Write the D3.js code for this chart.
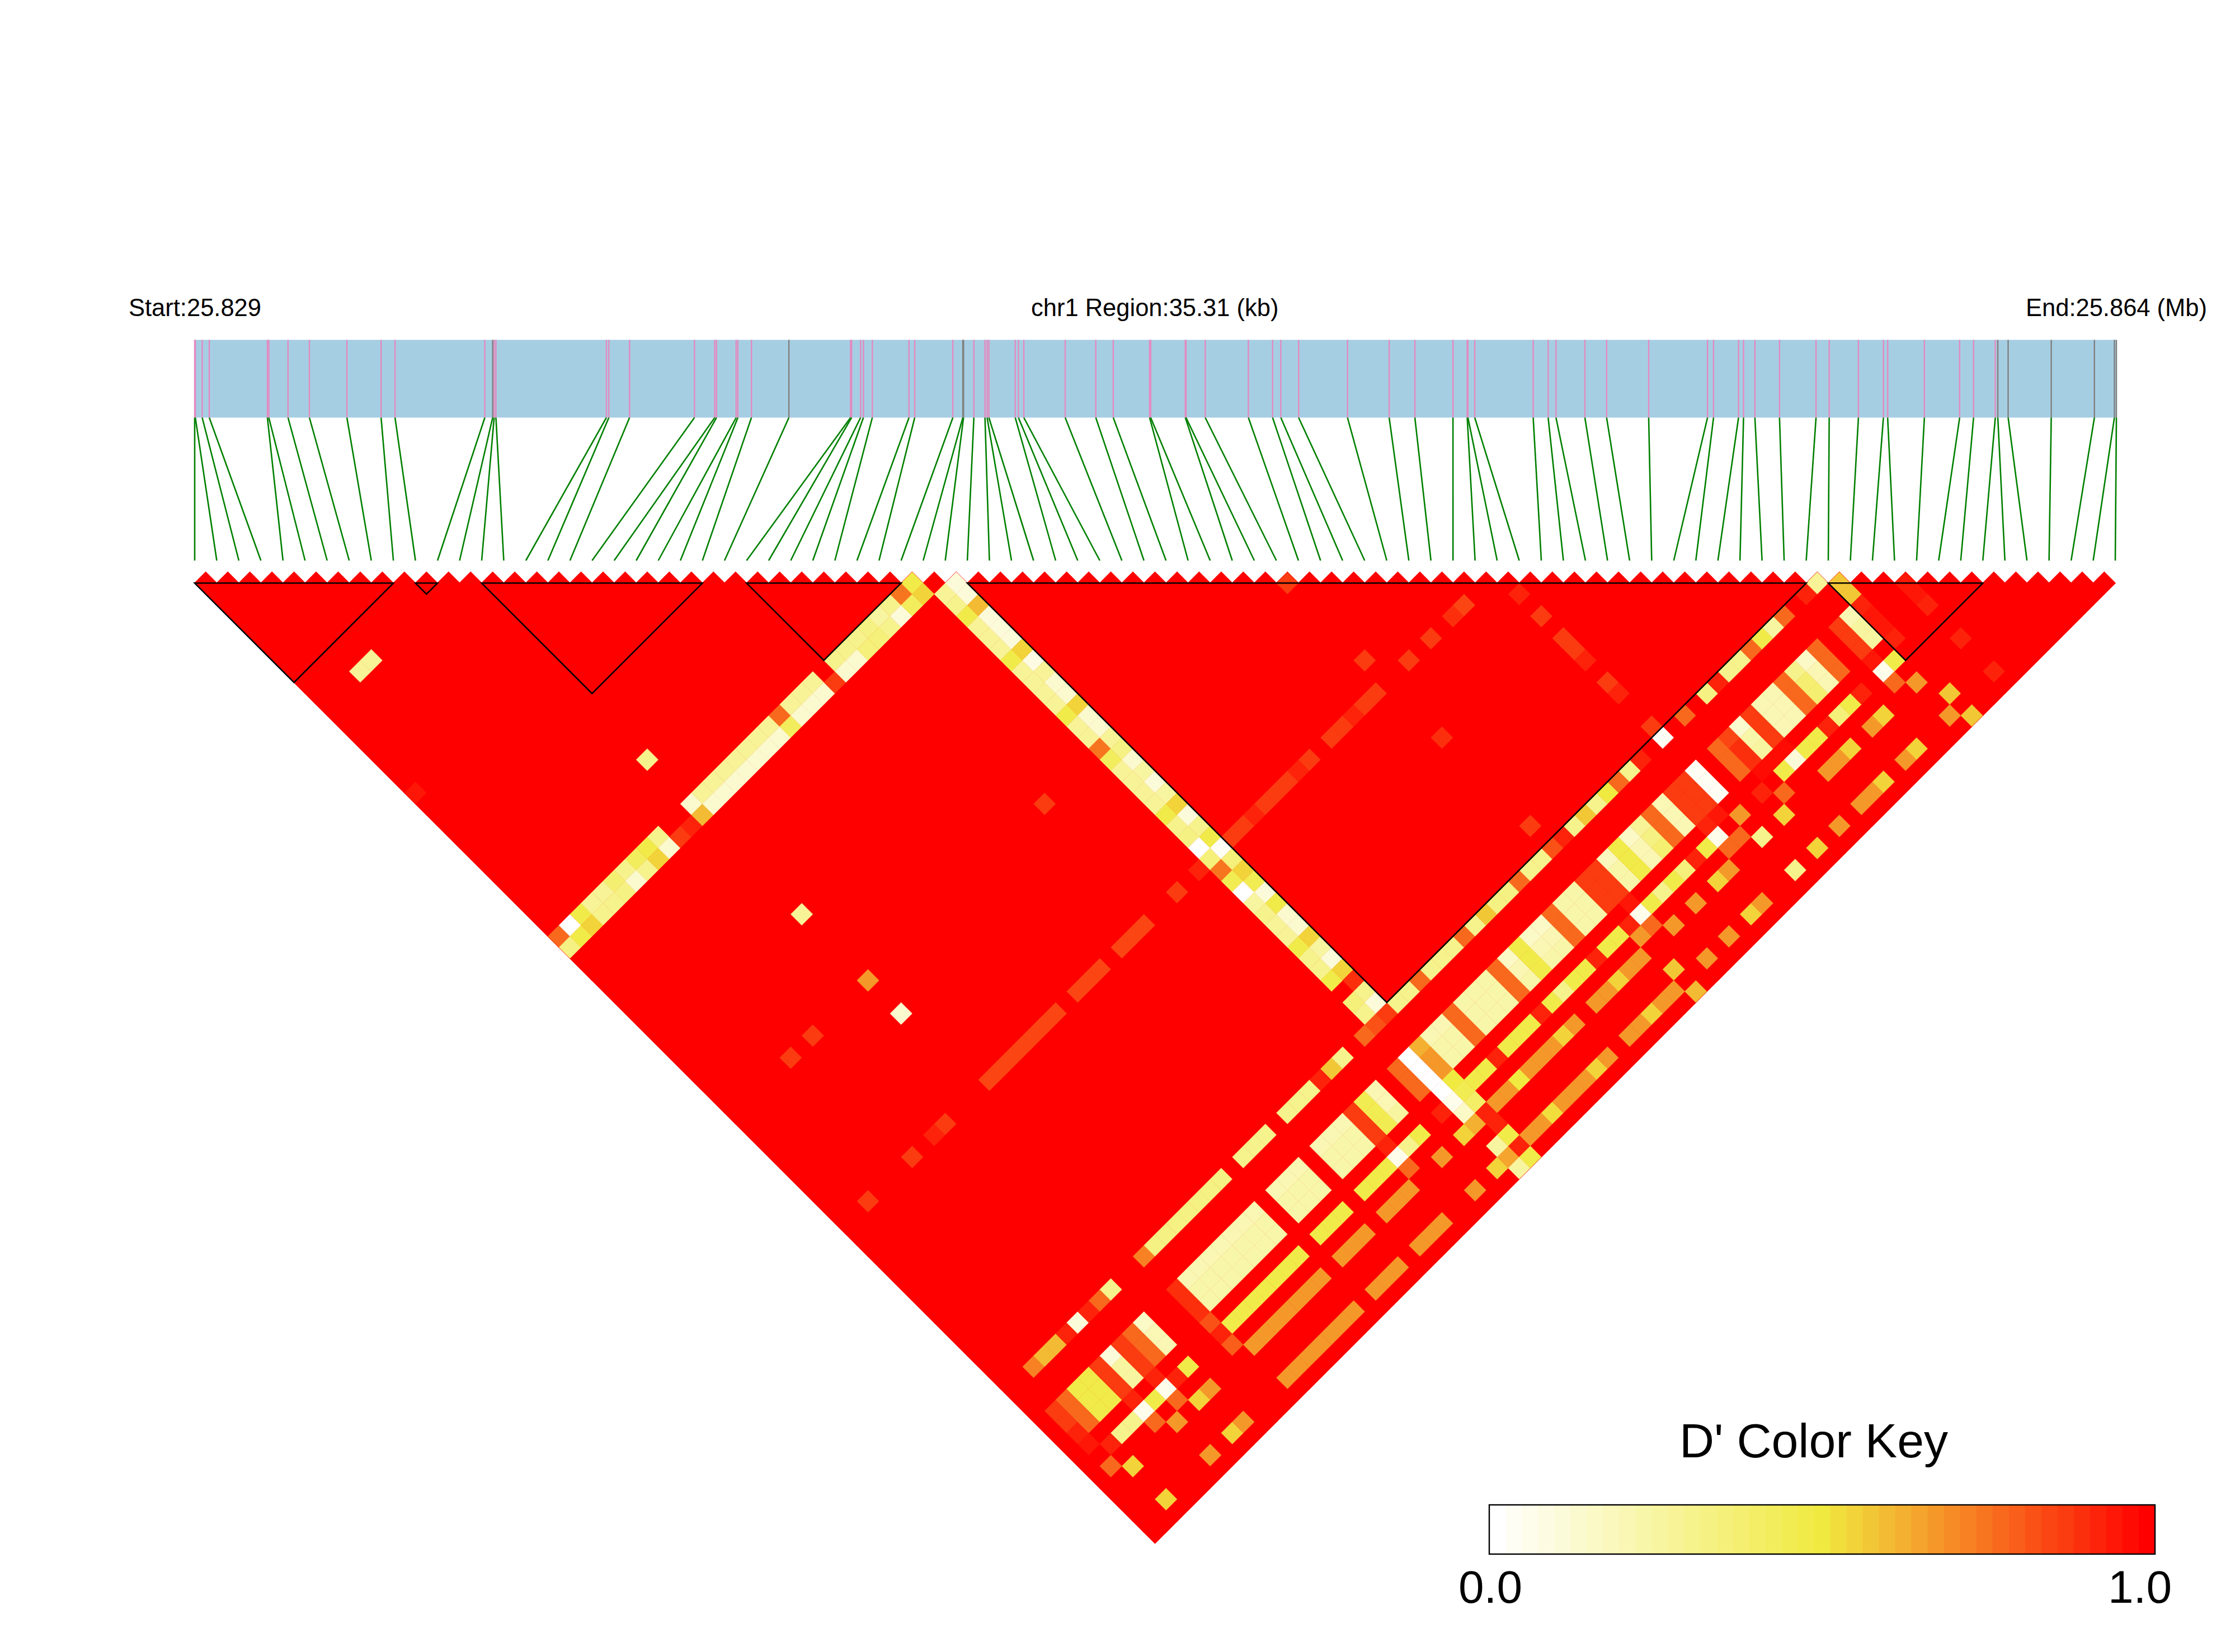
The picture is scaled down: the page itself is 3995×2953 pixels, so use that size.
<!DOCTYPE html>
<html>
<head>
	<title>LD block heatmap</title>
	<style type="text/css">
		body { margin: 0; background: white; }
		text { font-family: "Liberation Sans", Arial, sans-serif; fill: black; }
	</style>
</head>
<body>
<svg id="chart"></svg>
<script type="text/javascript" src="https://d3js.org/d3.v7.min.js"></script>
<script type="text/javascript">
	// SNP positions in kb from the region start
	var snpKb = [0, 0.012, 0.138, 0.268, 1.336, 1.362, 1.715, 2.108, 2.797, 3.425, 3.681, 5.331, 5.475, 5.502, 5.535,
		7.565, 7.610, 7.990, 9.183, 9.555, 9.588, 9.949, 9.981, 10.230, 10.918, 12.051, 12.070, 12.235, 12.287, 12.451,
		13.125, 13.230, 13.931, 14.114, 14.127, 14.317, 14.521, 14.560, 14.593, 15.077, 15.136, 15.235, 15.995, 16.557,
		16.878, 17.546, 17.566, 18.202, 18.215, 18.568, 19.361, 19.806, 19.957, 20.284, 21.182, 21.948, 22.420, 23.120,
		23.382, 23.395, 23.520, 24.594, 24.869, 25.013, 25.544, 25.943, 26.716, 27.797, 27.908, 28.367, 28.459, 28.668,
		29.120, 29.791, 30.033, 30.570, 31.029, 31.107, 31.782, 32.430, 32.686, 33.085, 33.131, 33.321, 34.113, 34.906,
		35.273, 35.31];
	var graySnps = [12, 24, 33, 34, 82, 83, 84, 85, 86, 87];
	var regionKb = 35.31;

	// haplotype blocks, first and last SNP
	var blockStart = [0, 10, 13, 25, 35, 74];
	var blockEnd = [9, 11, 23, 32, 73, 81];

	// D' below 1.0, every other pair is 1.0. [i, value] for a fixed j
	var col33 = [[0,.78],[1,0],[2,.48],[3,.28],[4,.28],[5,.38],[6,.3],[7,.42],[8,.48],[9,.3],[12,.12],[13,.28],[14,.28],[15,.28],[16,.28],[17,.28],[18,.28],[19,.28],[20,.78],[21,.28],[22,.28],[23,.28],[25,.3],[26,.3],[27,.3],[28,.33],[29,.25],[30,.3],[31,.75],[32,.48]];
	var col34 = [[0,.33],[1,.48],[2,.55],[3,.3],[4,.3],[5,.33],[6,.12],[7,.3],[8,.55],[9,.12],[10,.87],[11,.92],[12,.6],[13,.12],[14,.12],[15,.12],[16,.12],[17,.12],[18,.12],[19,.12],[20,.42],[21,.12],[22,.12],[23,.12],[24,.87],[25,.12],[26,.12],[27,.35],[28,.35],[29,.3],[30,.1],[31,.42],[32,.55]];
	var col59 = [[2,.87],[6,.87],[8,.93],[9,.87],[13,.86],[14,.86],[15,.86],[16,.86],[17,.86],[18,.86],[19,.86],[21,.86],[22,.86],[23,.86],[25,.86],[26,.86],[27,.86],[30,.87],[32,.92],[35,.87],[36,.87],[37,.93],[38,.87],[39,.87],[40,.87],[41,.93],[42,.87],[44,.87],[45,.87],[46,.93],[47,.87],[48,.87],[51,.87],[53,.87],[55,.9],[56,.85]];
	var col74 = [[2,.72],[3,.6],[4,.6],[5,.93],[6,.1],[7,.93],[8,.78],[9,.3],[12,.72],[13,.33],[14,.33],[15,.33],[16,.33],[17,.33],[18,.33],[19,.33],[21,.3],[22,.3],[23,.3],[25,.3],[26,.3],[27,.3],[28,.93],[29,.58],[30,.3],[32,.78],[33,.83],[34,.87],[35,.3],[36,.3],[37,.78],[38,.3],[39,.3],[40,.3],[41,.78],[42,.3],[43,.58],[44,.33],[45,.33],[46,.78],[47,.3],[48,.3],[49,.83],[50,.93],[51,.3],[52,.58],[53,.3],[54,.5],[55,.78],[56,.3],[57,.93],[59,.03],[61,.78],[63,.33],[64,.93],[65,.3],[66,.3],[67,.78],[68,.48],[69,.25],[70,.78],[72,.93],[73,.27]];
	var col80 = [[1,.95],[5,.93],[7,.93],[12,.83],[28,.93],[33,0],[34,.5],[50,.94],[57,.93],[58,.95],[62,.98],[63,.98],[64,.98],[72,.94],[74,.92]];
	var col81 = [[2,.93],[3,.3],[4,.3],[5,.05],[6,.48],[7,.05],[8,.93],[9,.48],[12,.93],[13,.48],[14,.48],[15,.48],[16,.48],[17,.48],[18,.48],[19,.48],[21,.48],[22,.48],[23,.48],[25,.48],[26,.48],[27,.48],[28,.05],[29,.3],[30,.48],[32,.93],[33,.05],[34,.45],[35,.48],[36,.48],[37,.93],[38,.48],[39,.48],[40,.48],[41,.93],[42,.48],[43,.3],[44,.48],[45,.48],[46,.93],[47,.48],[48,.48],[49,.93],[50,.05],[51,.48],[52,.3],[53,.48],[54,.35],[55,.93],[56,.48],[57,.05],[59,.68],[61,.93],[63,.48],[64,.1],[65,.48],[66,.48],[67,.93],[68,.35],[69,.48],[70,.93],[72,.05],[73,.48]];
	var col82 = [[1,.78],[5,.78],[7,.78],[12,.8],[28,.78],[33,.15],[34,.4],[49,.68],[50,.78],[57,.78],[58,.78],[62,.78],[72,.78]];
	var col83 = [[2,.55],[6,.68],[8,.55],[9,.68],[13,.68],[14,.68],[15,.68],[16,.68],[17,.68],[18,.68],[19,.68],[21,.68],[22,.68],[23,.68],[25,.68],[26,.68],[27,.68],[30,.68],[32,.55],[33,.62],[34,.92],[35,.68],[36,.68],[37,.5],[38,.68],[39,.68],[40,.68],[41,.55],[42,.68],[44,.68],[45,.68],[46,.55],[47,.68],[48,.68],[51,.68],[53,.68],[55,.55],[56,.68],[59,.3],[61,.55],[65,.68],[66,.68],[67,.55],[69,.68],[70,.55],[73,.68],[77,.93]];
	var col86 = [[2,.55],[6,.68],[8,.55],[9,.68],[13,.68],[14,.68],[15,.68],[16,.68],[17,.68],[18,.68],[19,.68],[21,.68],[22,.68],[23,.68],[25,.68],[26,.68],[27,.68],[30,.68],[32,.55],[33,.65],[34,.93],[35,.68],[36,.68],[37,.52],[38,.68],[39,.68],[40,.68],[41,.55],[42,.68],[44,.68],[45,.68],[46,.55],[47,.68],[48,.68],[51,.68],[53,.68],[55,.55],[56,.68],[59,.3],[61,.55],[63,.68],[65,.68],[66,.68],[67,.55],[69,.68],[70,.55],[73,.68],[77,.93]];

	// [i, value for j=77, j=78, j=79]
	var cols777879 = [[1,.87,.87,.93],[2,.78,.78,.78],[3,.48,.48,.48],[4,.48,.48,.48],[5,.87,.87,.87],[6,.1,.25,.25],[7,.87,.87,.87],[8,.78,.78,.78],[9,.15,.2,.2],[12,.9,.9,.9],
		[13,.2,.23,.23],[14,.2,.23,.23],[15,.2,.23,.23],[16,.2,.23,.23],[17,.2,.23,.23],[18,.2,.23,.23],[19,.2,.23,.23],[21,.2,.23,.23],[22,.2,.23,.23],[23,.2,.23,.23],[25,.2,.23,.23],[26,.2,.23,.23],[27,.2,.23,.23],
		[28,.87,.87,.87],[29,.45,.45,.45],[30,.2,.2,.25],[32,.78,.78,.78],[33,0,0,0],[34,.62,.68,.68],[35,.2,.22,.22],[36,.2,.22,.22],[37,.78,.78,.78],[38,.22,.22,.22],[39,.22,.22,.22],[40,.22,.22,.22],[41,.78,.78,.78],
		[42,.15,.2,.22],[43,.48,.48,.48],[44,.15,.2,.22],[45,.15,.2,.22],[46,.78,.78,.78],[47,.22,.22,.22],[48,.22,.22,.22],[49,.87,.87,.87],[50,.87,.87,.87],[51,.18,.22,.22],[52,.48,.48,.48],[53,.15,.2,.2],[54,.28,.33,.38],
		[55,.78,.78,.78],[56,.2,.2,.2],[57,.87,.87,.87],[58,.87,.87,.87],[59,.03,.03,.03],[61,.78,.78,.78],[62,.85,.89,.89],[63,.12,.22,.25],[64,.87,.87,.87],[65,.2,.2,.2],[66,.2,.2,.2],[67,.78,.78,.78],[68,.3,.38,.38],
		[69,.15,.2,.2],[70,.78,.78,.78],[72,.87,.87,.87],[73,.2,.25,.25],[74,.93,.96,.96]];

	// values of SNP 33 and 34 against j = 35, 36, ...
	var row33 = [.28,.3,.48,.27,.27,.27,.48,.27,.27,.27,.27,.48,.27,.27,.75,.42,.28,.27,.27,.27,.48,.3,.32,0,.35,.75,.45,0,.25,.3,.27,.27,.48,.3,.3,.48,1,.35,.3];
	var row34 = [.1,.1,.6,.1,.1,.1,.55,.08,.28,.12,.12,.55,.12,.12,.28,.33,.12,.25,.1,.25,.55,.1,.3,.48,.03,.35,.55,.45,.1,.48,.12,.12,.55,.25,.1,.55,.9,.3,.1];

	// the scattered pairs, [i, j, value]
	var otherCells = [[0,20,.95],[3,12,.27],[4,12,.27],[5,49,.87],[7,49,.87],[12,29,.3],[12,43,.28],[12,49,.68],[12,52,.12],[28,49,.87],
		[34,84,.92],[33,85,.25],[34,85,.48],[49,85,.58],[74,85,.58],[33,87,.25],[34,87,.48],[49,87,.6],[74,87,.58],
		[49,50,.87],[49,57,.87],[49,64,.9],[49,72,.87],[59,61,.93],[59,63,.87],[59,65,.87],[59,66,.87],[59,67,.93],[59,69,.87],[59,70,.93],[59,73,.87],
		[74,75,.58],[74,76,.58],[73,77,.2],[77,78,.96],[77,79,.96],[77,80,.93]];

	var keyLabels = ["0.0", "1.0"];
	var keySteps = 41;

	var width = 3995, height = 2953;

	var svg = d3.select("#chart")
		.attr("width", width)
		.attr("height", height);

	var n = snpKb.length;

	// scales
	var left = 348, right = 3781;
	var step = (right - left) / (n - 1);
	var kb = d3.scaleLinear().domain([0, regionKb]).range([left, right + 2]);
	var x = d3.scaleLinear().domain([0, n - 1]).range([left, right]);
	var y = d3.scaleLinear().domain([1, n - 1]).range([1042.3, 1042.3 + (n - 2) * step / 2]);
	var ramp = d3.scaleLinear()
		.domain([0, 0.5, 1])
		.range(["#ffffff", "#f0ea40", "#ff0000"]);
	var color = function(v) { return ramp(Math.round(v * (keySteps - 1)) / (keySteps - 1)); };

	// collect the low pairs from the lists
	var low = [];
	function addCol(list, j) {
		list.forEach(function(d) { low.push({i: d[0], j: j, v: d[1]}); });
	}
	addCol(col33, 33); addCol(col34, 34); addCol(col59, 59); addCol(col74, 74); addCol(col80, 80);
	addCol(col81, 81); addCol(col82, 82); addCol(col83, 83); addCol(col86, 86);
	cols777879.forEach(function(d) {
		[77, 78, 79].forEach(function(j, k) { low.push({i: d[0], j: j, v: d[k + 1]}); });
	});
	row33.forEach(function(v, k) { low.push({i: 33, j: 35 + k, v: v}); });
	row34.forEach(function(v, k) { low.push({i: 34, j: 35 + k, v: v}); });
	otherCells.forEach(function(d) { low.push({i: d[0], j: d[1], v: d[2]}); });
	low = low.filter(function(d) { return d.v < 1; });

	var pairs = [];
	d3.range(n).forEach(function(i) {
		d3.range(i + 1, n).forEach(function(j) { pairs.push({i: i, j: j, v: 1}); });
	});

	function diamond(d) {
		var m = (d.i + d.j) / 2, s = d.j - d.i;
		return "M" + x(m - 0.5) + "," + y(s) +
			"L" + x(m) + "," + y(s - 1) +
			"L" + x(m + 0.5) + "," + y(s) +
			"L" + x(m) + "," + y(s + 1) + "Z";
	}

	// gene track
	svg.append("rect")
		.attr("x", kb(0))
		.attr("y", 607.5)
		.attr("width", kb(regionKb) - kb(0))
		.attr("height", 139)
		.attr("fill", "#a6cee3");

	svg.append("g").selectAll("line")
		.data(snpKb)
		.enter().append("line")
		.attr("x1", function(d) { return kb(d); })
		.attr("x2", function(d) { return kb(d); })
		.attr("y1", 607.5)
		.attr("y2", 746.5)
		.attr("stroke", function(d, i) { return graySnps.indexOf(i) >= 0 ? "#808080" : "#e38ac0"; })
		.attr("stroke-width", 2.4);

	// connectors from the track to the equally spaced SNP index
	svg.append("g").selectAll("line")
		.data(snpKb)
		.enter().append("line")
		.attr("x1", function(d) { return kb(d); })
		.attr("x2", function(d, i) { return x(i); })
		.attr("y1", 746.5)
		.attr("y2", 1002)
		.attr("stroke", "#008000")
		.attr("stroke-width", 2.6);

	// heatmap: all pairs, then the ones under 1.0 on top
	svg.append("g").selectAll("path")
		.data(pairs)
		.enter().append("path")
		.attr("d", diamond)
		.attr("fill", color(1))
		.attr("stroke", color(1))
		.attr("stroke-width", 1.5);

	svg.append("g").selectAll("path")
		.data(low)
		.enter().append("path")
		.attr("d", diamond)
		.attr("fill", function(d) { return color(d.v); })
		.attr("stroke", function(d) { return color(d.v); })
		.attr("stroke-width", 0.5);

	// blocks
	svg.append("g").selectAll("path")
		.data(blockStart)
		.enter().append("path")
		.attr("d", function(a, k) {
			var b = blockEnd[k];
			return "M" + x(a) + "," + y(1) + "L" + x(b) + "," + y(1) +
				"L" + x((a + b) / 2) + "," + y(1 + b - a) + "Z";
		})
		.attr("fill", "none")
		.attr("stroke", "black")
		.attr("stroke-width", 2.6);

	// header text
	svg.append("text").attr("x", 230).attr("y", 565).attr("font-size", 43.5).text("Start:25.829");
	svg.append("text").attr("x", 1843).attr("y", 565).attr("font-size", 43.5).text("chr1 Region:35.31 (kb)");
	svg.append("text").attr("x", 3621).attr("y", 565).attr("font-size", 43.5).text("End:25.864 (Mb)");

	// colour key
	var keyX = d3.scaleLinear().domain([0, keySteps]).range([2662, 3852]);
	svg.append("g").selectAll("rect")
		.data(d3.range(keySteps))
		.enter().append("rect")
		.attr("x", function(d) { return keyX(d); })
		.attr("y", 2690)
		.attr("width", function(d) { return keyX(d + 1) - keyX(d) + 0.5; })
		.attr("height", 88)
		.attr("fill", function(d) { return ramp(d / (keySteps - 1)); });

	svg.append("rect")
		.attr("x", keyX(0))
		.attr("y", 2690)
		.attr("width", keyX(keySteps) - keyX(0))
		.attr("height", 88)
		.attr("fill", "none")
		.attr("stroke", "black")
		.attr("stroke-width", 2.4);

	svg.append("text")
		.attr("x", 3242)
		.attr("y", 2605)
		.attr("text-anchor", "middle")
		.attr("font-size", 86)
		.text("D' Color Key");

	svg.selectAll(".key-label")
		.data(keyLabels)
		.enter().append("text")
		.attr("class", "key-label")
		.attr("x", function(d, i) { return i === 0 ? 2664 : 3825; })
		.attr("y", 2865)
		.attr("text-anchor", "middle")
		.attr("font-size", 82)
		.text(function(d) { return d; });
</script>
</body>
</html>
